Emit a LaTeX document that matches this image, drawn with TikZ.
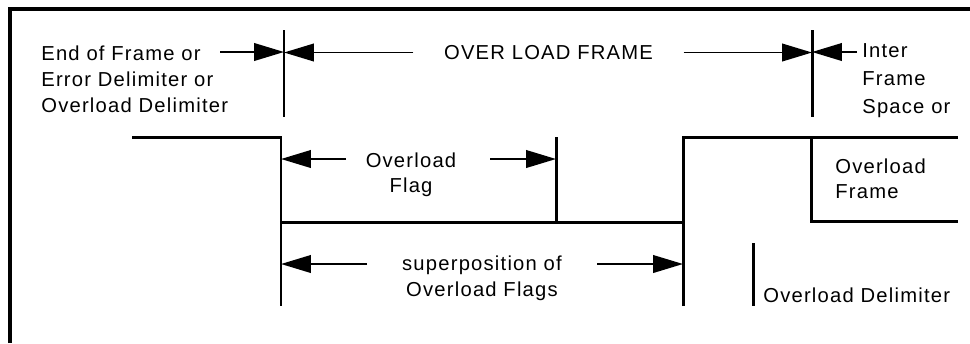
\documentclass[tikz,border=0pt]{standalone}
\usepackage{fontspec}
\setmainfont{Liberation Sans}[LetterSpace=6]
\usetikzlibrary{arrows.meta, positioning, calc}

\begin{document}
\begin{tikzpicture}[x=0.02cm, y=-0.02cm,
		wave/.style={line width=1.7pt},
		dim/.style={line width=1.1pt, -{Triangle[length=17pt, width=10pt]}},
		txt/.style={font=\fontsize{11.5}{14.8}\selectfont, inner sep=0pt}]
			\useasboundingbox (0, 0) rectangle (970, 343);
			
			\draw[line width=2.3pt] (10, 343) -- (10, 9) -- (970, 9);
			
			% tick marks of the frame
			\coordinate (t1a) at (284, 30);
			\coordinate (t1b) at (284, 117);
			\coordinate (t2a) at (812, 30);
			\coordinate (t2b) at (812, 117);
			
			\draw[wave] (t1a) -- (t1b);
			\draw[wave] (t2a) -- (t2b);
			
			% bus levels
			\coordinate (s0) at (132, 137);
			\coordinate (s1) at (281, 137);
			\coordinate (s2) at (281, 306);
			\coordinate (m1) at (281, 222);
			\coordinate (m2) at (683, 222);
			\coordinate (e1) at (683, 306);
			\coordinate (e2) at (683, 137);
			\coordinate (e3) at (958, 137);
			\coordinate (d1) at (811, 137);
			\coordinate (d2) at (811, 221);
			\coordinate (d3) at (958, 221);
			\coordinate (f1) at (556, 137);
			\coordinate (f2) at (556, 222);
			\coordinate (o1) at (753, 243);
			\coordinate (o2) at (753, 306);
			
			\draw[wave] (s0) -- (s1) -- (s2);
			\draw[wave] (m1) -- (m2);
			\draw[wave] (e1) -- (e2) -- (e3);
			\draw[wave] (d1) -- (d2) -- (d3);
			\draw[wave] (f1) -- (f2);
			\draw[wave] (o1) -- (o2);
			
			% labels
			\node[txt, align=left, anchor=north west] (eof) at (41, 45) {End of Frame or\\Error Delimiter or\\Overload Delimiter};
			\node[txt, inner xsep=0.61cm] (olf) at (548.5, 52.5) {OVER LOAD FRAME};
			\node[txt, align=left, anchor=north west, font=\fontsize{11.5}{16}\selectfont] (ifs) at (862, 43.5) {Inter\\Frame\\Space or};
			\node[txt, align=center, anchor=north, font=\fontsize{11.5}{14.3}\selectfont] (ovf) at (411, 152) {Overload\\Flag};
			\node[txt, align=center, anchor=north] (sup) at (482, 255) {superposition of\\Overload Flags};
			\node[txt, align=left, anchor=north west, font=\fontsize{11.5}{14.3}\selectfont] (ofr) at (835, 158.5) {Overload\\Frame};
			\node[txt, anchor=base west] (odl) at (763, 302) {Overload Delimiter};
			
			% dimension arrows
			\coordinate (eofe) at (220, 52);
			\coordinate (ifsa) at (857, 52);
			\coordinate (fla) at (346, 159);
			\coordinate (flb) at (490, 159);
			\coordinate (spa) at (367, 264);
			\coordinate (spb) at (597, 264);
			
			\draw[dim] (eofe) -- (eofe -| t1a);
			\draw[dim] (olf.west) -- (olf.west -| t1a);
			\draw[dim] (olf.east) -- (olf.east -| t2a);
			\draw[dim] (ifsa) -- (ifsa -| t2a);
			
			\draw[dim] (fla) -- (fla -| s1);
			\draw[dim] (flb) -- (flb -| f1);
			\draw[dim] (spa) -- (spa -| s1);
			\draw[dim] (spb) -- (spb -| e2);
			
		\end{tikzpicture}
\end{document}
